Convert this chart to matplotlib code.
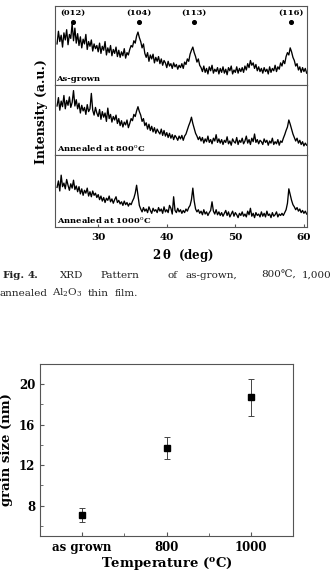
import matplotlib
matplotlib.use('agg')
import matplotlib.pyplot as plt
import numpy as np

plt.rcParams['font.family'] = ['DejaVu Serif', 'DejaVu Sans']
plt.rcParams['mathtext.fontset'] = 'dejavuserif'

# XRD scan: 2theta grid (deg)
scan_start = 24.0
scan_step = 0.2

# intensities, each panel scaled 0-100
as_grown = [52, 68, 55, 63, 48, 66, 57, 70, 51, 64, 59, 78, 56, 72, 53,
            65, 50, 61, 47, 58, 52, 64, 45, 55, 49, 57, 43, 52, 46, 50,
            42, 53, 40, 49, 44, 55, 38, 47, 41, 50, 37, 45, 40, 48, 36,
            44, 35, 42, 37, 46, 34, 41, 38, 45, 50, 48, 56, 53, 62, 67,
            60, 55, 47, 52, 40, 35, 41, 30, 38, 33, 39, 28, 35, 30, 36,
            27, 33, 25, 31, 28, 22, 30, 24, 27, 21, 28, 23, 26, 20, 25,
            22, 27, 21, 29, 26, 33, 30, 39, 44, 48, 41, 36, 29, 33, 25,
            22, 17, 24, 16, 21, 14, 23, 18, 25, 15, 20, 17, 22, 14, 21,
            16, 23, 15, 20, 13, 22, 18, 24, 14, 19, 16, 23, 15, 21, 17,
            22, 16, 24, 19, 27, 22, 31, 25, 28, 21, 26, 18, 23, 17, 21,
            15, 22, 17, 20, 14, 23, 16, 21, 18, 25, 17, 23, 20, 28, 24,
            31, 27, 36, 41, 38, 47, 42, 35, 31, 24, 27, 19, 23, 16, 22,
            17, 21, 15]
annealed_800 = [70, 82, 64, 77, 69, 85, 66, 78, 71, 83, 68, 75, 92, 70, 79,
                66, 74, 60, 71, 63, 68, 58, 72, 62, 66, 88, 64, 57, 68, 60,
                55, 65, 51, 62, 54, 60, 48, 67, 52, 58, 47, 55, 50, 57, 45,
                52, 42, 49, 40, 47, 43, 50, 39, 45, 52, 49, 58, 55, 63, 69,
                62, 57, 48, 52, 42, 46, 37, 44, 35, 41, 33, 39, 31, 37, 33,
                30, 37, 28, 35, 27, 32, 25, 31, 24, 29, 22, 28, 25, 21, 27,
                23, 28, 21, 27, 30, 36, 42, 47, 54, 45, 38, 31, 27, 22, 26,
                20, 25, 17, 23, 19, 27, 18, 22, 16, 24, 20, 29, 18, 23, 17,
                22, 15, 21, 18, 26, 16, 20, 14, 23, 19, 17, 25, 15, 21, 18,
                24, 16, 20, 27, 17, 22, 15, 24, 19, 30, 18, 22, 16, 21, 19,
                15, 23, 18, 21, 14, 20, 17, 24, 15, 19, 16, 22, 14, 20, 18,
                24, 29, 35, 40, 50, 44, 37, 30, 25, 20, 24, 17, 21, 15, 19,
                13, 17, 14]
annealed_1000 = [55, 64, 50, 72, 56, 61, 53, 66, 58, 51, 60, 54, 65, 52, 57,
                 49, 56, 46, 53, 44, 51, 47, 54, 43, 49, 42, 50, 44, 47, 41,
                 45, 38, 43, 36, 41, 34, 40, 37, 43, 35, 39, 33, 38, 42, 34,
                 37, 32, 35, 30, 36, 31, 34, 29, 33, 31, 36, 40, 47, 58, 44,
                 30, 25, 21, 27, 22, 25, 20, 28, 23, 19, 26, 22, 24, 20, 27,
                 22, 25, 19, 28, 21, 24, 20, 30, 26, 18, 42, 23, 20, 26, 21,
                 24, 19, 23, 20, 25, 22, 27, 30, 38, 54, 36, 25, 21, 24, 19,
                 22, 17, 24, 18, 21, 16, 20, 23, 35, 22, 18, 24, 17, 21, 16,
                 20, 15, 19, 23, 16, 21, 14, 18, 22, 15, 20, 17, 13, 19, 16,
                 21, 15, 18, 14, 22, 17, 26, 15, 19, 13, 20, 16, 18, 14, 21,
                 15, 19, 14, 22, 16, 18, 13, 20, 15, 17, 21, 14, 18, 16, 19,
                 16, 20, 24, 33, 53, 45, 37, 31, 28, 24, 27, 22, 25, 20, 23,
                 19, 22, 18]

panel_labels = ['As-grown', 'Annealed at 800$^{\\rm o}$C', 'Annealed at 1000$^{\\rm o}$C']
peak_names = ['(012)', '(104)', '(113)', '(116)']
peak_pos = [26.3, 35.9, 43.9, 58.05]

# grain size
temps = ['as grown', '800', '1000']
grain = [7.1, 13.7, 18.7]
grain_err = [0.7, 1.05, 1.8]

W, H = 334, 573
fig = plt.figure(figsize=(W / 100, H / 100), dpi=100)


def box(l, t, r, b):
    return [l / W, 1 - b / H, (r - l) / W, (b - t) / H]


frame_col = '#555555'
two_theta = scan_start + scan_step * np.arange(len(as_grown))
panels = [(6, 85), (85, 155), (155, 227)]
for i, (series, (t, b)) in enumerate(zip([as_grown, annealed_800, annealed_1000], panels)):
    ax = fig.add_axes(box(55, t, 307, b))
    ax.plot(two_theta, series, color='black', lw=0.95)
    ax.set_xlim(23.7, 60.45)
    ax.set_ylim(0, 100)
    ax.set_yticks([])
    for s in ax.spines.values():
        s.set_color(frame_col)
        s.set_linewidth(0.8)
    ax.text(0.006, 0.03, panel_labels[i], transform=ax.transAxes, fontsize=6,
            fontweight='bold', ha='left', va='bottom')
    if i == 0:
        ax.scatter(peak_pos, [80] * 4, s=7, color='black', zorder=3)
        for name, p in zip(peak_names, peak_pos):
            ax.text(p, 86, name, fontsize=6, fontweight='bold', ha='center', va='bottom')
    if i < 2:
        ax.set_xticks([])
    else:
        ax.set_xticks([30, 40, 50, 60])
        ax.tick_params(axis='x', direction='in', length=2, labelsize=7.5, pad=4, color=frame_col)
        for lab in ax.get_xticklabels():
            lab.set_fontweight('bold')

fig.text(42 / W, 1 - 112 / H, 'Intensity (a.u.)', rotation=90, fontsize=9,
         fontweight='bold', ha='center', va='center')
fig.text(183 / W, 1 - 255 / H, '2$\\,\\mathbf{\\theta}$  (deg)', fontsize=8.5,
         fontweight='bold', ha='center', va='center')

# caption, word by word to mimic justified text
line1 = [('Fig.', 2, True), ('4.', 28, True), ('XRD', 60, False), ('Pattern', 100, False),
         ('of', 167, False), ('as-grown,', 185, False), ('800\u2103,', 261, False),
         ('1,000', 302, False)]
for word, x, bold in line1:
    fig.text(x / W, 1 - 275 / H, word, fontsize=7.5, ha='left', va='center',
             fontweight='bold' if bold else 'normal', color='#222222')
line2 = [('annealed', 0), ('Al$_2$O$_3$', 52), ('thin', 88), ('film.', 115)]
for word, x in line2:
    fig.text(x / W, 1 - 293 / H, word, fontsize=7.5, ha='left', va='center', color='#222222')

# grain size vs temperature
ax = fig.add_axes(box(40, 364, 293, 536))
xpos = np.arange(len(temps))
ax.errorbar(xpos, grain, yerr=grain_err, fmt='s', color='black', ms=5,
            ecolor='#444444', elinewidth=0.7, capsize=2, capthick=0.7)
ax.set_xlim(-0.5, 2.5)
ax.set_ylim(5, 22)
ax.set_xticks(xpos)
ax.set_xticklabels(temps)
ax.set_xticks([0.5, 1.5], minor=True)
ax.set_yticks([8, 12, 16, 20])
ax.set_yticks([6, 10, 14, 18], minor=True)
ax.tick_params(which='both', direction='in', color=frame_col, labelsize=8.5)
ax.tick_params(which='major', length=3)
ax.tick_params(which='minor', length=2)
for lab in ax.get_xticklabels() + ax.get_yticklabels():
    lab.set_fontweight('bold')
for s in ax.spines.values():
    s.set_color(frame_col)
    s.set_linewidth(0.8)
ax.set_ylabel('grain size (nm)', fontsize=9.5, fontweight='bold', labelpad=4)
fig.text(167 / W, 1 - 564 / H, 'Temperature ($\\mathbf{^{o}}$C)', fontsize=9.5,
         fontweight='bold', ha='center', va='center')

fig.savefig('out.png', dpi=100)
